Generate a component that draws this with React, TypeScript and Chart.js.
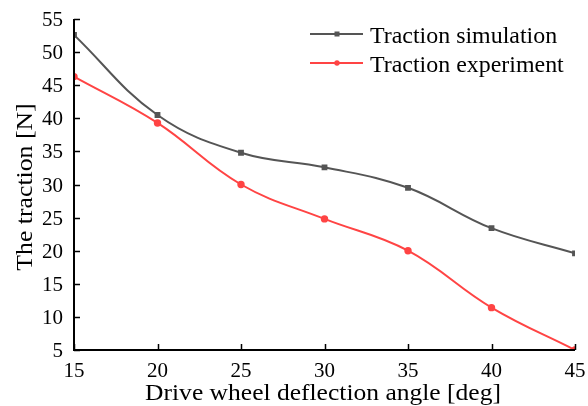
import React, { useEffect, useRef } from "react";
import { Chart, registerables } from "chart.js";

Chart.register(...registerables);

const angles = [15, 20, 25, 30, 35, 40, 45];
const simulation = [52.6, 40.5, 34.8, 32.6, 29.5, 23.4, 19.6];
const experiment = [46.3, 39.3, 30.0, 24.8, 20.0, 11.4, 5.0];
const yTicks = [5, 10, 15, 20, 25, 30, 35, 40, 45, 50, 55];
const xTicks = [15, 20, 25, 30, 35, 40, 45];
const seriesNames = ["Traction simulation", "Traction experiment"];
const xTitle = "Drive wheel deflection angle [deg]";
const yTitle = "The traction [N]";

const FONT = "'Liberation Serif', 'Times New Roman', serif";
const GRAY = "#555555";
const RED = "#ff4444";

function drawText(ctx: any, text: string, x: number, y: number, size: number, sx: number, align: string, rot = 0) {
  ctx.save();
  ctx.translate(x, y);
  if (rot) ctx.rotate(rot);
  ctx.scale(sx, 1);
  ctx.font = `${size}px ${FONT}`;
  ctx.textAlign = align;
  ctx.textBaseline = "alphabetic";
  ctx.fillStyle = "#000";
  ctx.fillText(text, 0, 0);
  ctx.restore();
}

const axesPlugin = {
  id: "customAxes",
  afterDraw(chart: any) {
    const { ctx, chartArea, scales } = chart;
    const x = scales.x;
    const y = scales.y;
    ctx.save();
    ctx.strokeStyle = "#000";
    ctx.lineWidth = 2;
    ctx.beginPath();
    ctx.moveTo(chartArea.left, chartArea.top);
    ctx.lineTo(chartArea.left, chartArea.bottom);
    ctx.lineTo(chartArea.right, chartArea.bottom);
    ctx.stroke();
    ctx.lineWidth = 1.5;
    ctx.beginPath();
    yTicks.forEach((v) => {
      const py = Math.round(y.getPixelForValue(v)) + 0.5;
      ctx.moveTo(chartArea.left, py);
      ctx.lineTo(chartArea.left + 6, py);
    });
    xTicks.forEach((v) => {
      const px = Math.round(x.getPixelForValue(v)) + 0.5;
      ctx.moveTo(px, chartArea.bottom);
      ctx.lineTo(px, chartArea.bottom - 6);
    });
    ctx.stroke();
    ctx.restore();

    // tick labels
    yTicks.forEach((v) => {
      drawText(ctx, String(v), chartArea.left - 11, y.getPixelForValue(v) + 7, 21, 1, "right");
    });
    xTicks.forEach((v) => {
      drawText(ctx, String(v), x.getPixelForValue(v), chartArea.bottom + 27, 21, 1, "center");
    });
    // axis titles
    drawText(ctx, xTitle, 323, 400, 23, 1.11, "center");
    drawText(ctx, yTitle, 32, 187, 23, 1.12, "center", -Math.PI / 2);

    // legend
    const items = [
      { label: seriesNames[0], color: GRAY, square: true, y: 34, base: 43 },
      { label: seriesNames[1], color: RED, square: false, y: 63, base: 72 },
    ];
    items.forEach((it) => {
      ctx.save();
      ctx.strokeStyle = it.color;
      ctx.fillStyle = it.color;
      ctx.lineWidth = 2;
      ctx.beginPath();
      ctx.moveTo(310, it.y);
      ctx.lineTo(363, it.y);
      ctx.stroke();
      if (it.square) {
        ctx.fillRect(334.5, it.y - 2.5, 5, 5);
      } else {
        ctx.beginPath();
        ctx.arc(337, it.y, 2.7, 0, Math.PI * 2);
        ctx.fill();
      }
      ctx.restore();
      drawText(ctx, it.label, 370, it.base, 23, 1.04, "left");
    });
  },
};

export default function App() {
  const ref = useRef<HTMLCanvasElement | null>(null);
  useEffect(() => {
    if (!ref.current) return;
    const chart = new Chart(ref.current, {
      type: "line",
      data: {
        datasets: [
          {
            label: seriesNames[0],
            data: angles.map((a, i) => ({ x: a, y: simulation[i] })),
            borderColor: GRAY,
            backgroundColor: GRAY,
            borderWidth: 2,
            pointStyle: "rect",
            pointRadius: 2.7,
            tension: 0.4,
          },
          {
            label: seriesNames[1],
            data: angles.map((a, i) => ({ x: a, y: experiment[i] })),
            borderColor: RED,
            backgroundColor: RED,
            borderWidth: 2,
            pointStyle: "circle",
            pointRadius: 2.7,
            tension: 0.4,
          },
        ],
      },
      options: {
        animation: false,
        responsive: false,
        maintainAspectRatio: false,
        layout: { padding: { top: 19, right: 13, left: 0, bottom: 0 } },
        plugins: { legend: { display: false }, tooltip: { enabled: false } },
        scales: {
          x: {
            type: "linear",
            min: 15,
            max: 45,
            afterFit: (s: any) => {
              s.height = 56;
            },
            grid: { display: false, drawTicks: false },
            border: { display: false },
            ticks: { display: false },
          },
          y: {
            type: "linear",
            min: 5,
            max: 55,
            afterFit: (s: any) => {
              s.width = 74;
            },
            grid: { display: false, drawTicks: false },
            border: { display: false },
            ticks: { display: false },
          },
        },
      },
      plugins: [axesPlugin],
    } as any);
    return () => chart.destroy();
  }, []);
  return (
    <div style={{ position: "fixed", left: 0, top: 0, width: 588, height: 406, background: "#fff" }}>
      <canvas ref={ref} width={588} height={406} style={{ width: 588, height: 406 }} />
    </div>
  );
}
